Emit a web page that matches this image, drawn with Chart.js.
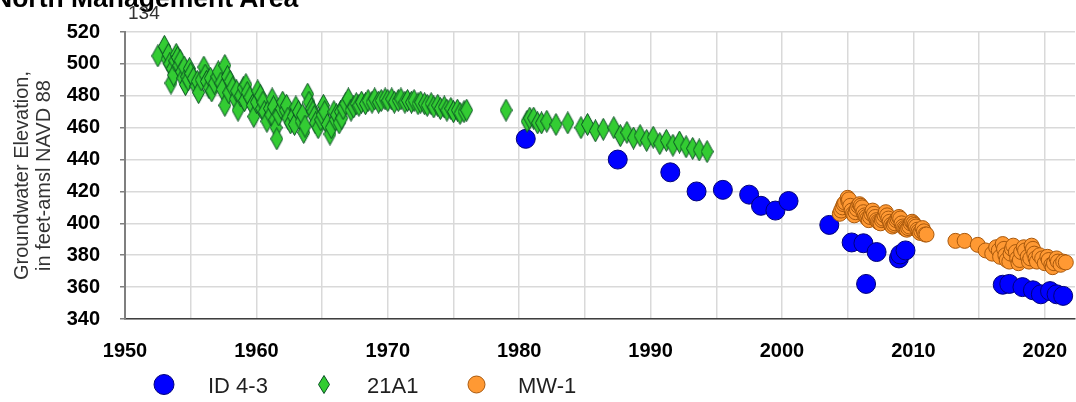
<!DOCTYPE html>
<html>
<head>
<meta charset="utf-8">
<script src="https://cdn.jsdelivr.net/npm/chart.js@4.4.1/dist/chart.umd.min.js"></script>
<style>
  html, body { margin: 0; padding: 0; background: #fff; }
  #wrap { position: relative; width: 1076px; height: 402px; overflow: hidden; font-family: "Liberation Sans", Arial, sans-serif; }
  #chart-title { position: absolute; left: -7px; top: -15px; font-size: 26.5px; font-weight: bold; line-height: 1; color: #000; white-space: nowrap; }
  #well-id { position: absolute; left: 128px; top: 3px; font-size: 19px; line-height: 1; color: #333; }
</style>
</head>
<body>
<div id="wrap">
  <canvas id="chart-hydro"></canvas>
  <div id="chart-title">North Management Area</div>
  <div id="well-id">134</div>
</div>
<script>
// Hydrograph — well 134, North Management Area
const FONT = '"Liberation Sans", Arial, sans-serif';

const xGridYears = [1950, 1955, 1960, 1965, 1970, 1975, 1980, 1985, 1990, 1995, 2000, 2005, 2010, 2015, 2020];
const yTickValues = [340, 360, 380, 400, 420, 440, 460, 480, 500, 520];
const seriesNames = ['ID 4-3', '21A1', 'MW-1'];

// [decimal year, elevation ft]
const id43 = [
  [1980.5, 453], [1987.5, 440], [1991.5, 432], [1993.5, 420], [1995.5, 421],
  [1997.5, 418], [1998.4, 411], [1999.5, 408], [2000.5, 414], [2003.6, 399],
  [2005.3, 388], [2006.2, 387.5], [2006.4, 362], [2007.2, 382], [2008.9, 378],
  [2009.0, 380.5], [2009.4, 383], [2016.8, 361.5], [2017.3, 362], [2018.3, 360],
  [2019.1, 358], [2019.7, 355.5], [2020.4, 357.5], [2020.9, 355.5], [2021.4, 354.5]
];

const well21A1 = [
  [1952.5, 505], [1953.0, 511], [1953.2, 503], [1953.3, 506], [1953.4, 500],
  [1953.5, 488], [1953.6, 497], [1953.7, 493], [1953.8, 502], [1953.9, 506],
  [1954.0, 504], [1954.1, 499], [1954.2, 502], [1954.3, 495], [1954.4, 491],
  [1954.5, 498], [1954.6, 487], [1954.7, 492], [1954.8, 490], [1954.9, 497],
  [1955.0, 494], [1955.2, 491], [1955.4, 486], [1955.5, 489], [1955.6, 482],
  [1955.8, 490], [1956.0, 498], [1956.1, 493], [1956.2, 489], [1956.4, 485],
  [1956.5, 491], [1956.6, 483], [1956.8, 488], [1957.0, 492], [1957.1, 495],
  [1957.3, 488], [1957.4, 484], [1957.6, 499], [1957.6, 474], [1957.8, 492],
  [1957.9, 482], [1958.0, 489], [1958.2, 485], [1958.4, 478], [1958.5, 483],
  [1958.6, 471], [1958.8, 480], [1959.0, 485], [1959.1, 477], [1959.2, 487],
  [1959.3, 482], [1959.5, 479], [1959.7, 474], [1959.8, 467], [1960.0, 476],
  [1960.1, 483], [1960.3, 480], [1960.4, 472], [1960.5, 476], [1960.6, 470],
  [1960.8, 464], [1961.0, 472], [1961.1, 468], [1961.2, 478], [1961.3, 473],
  [1961.4, 465], [1961.5, 460], [1961.55, 453], [1961.7, 468], [1961.9, 472],
  [1962.0, 476], [1962.2, 471], [1962.3, 474], [1962.4, 466], [1962.6, 463],
  [1962.8, 467], [1962.9, 462], [1963.0, 473], [1963.2, 470], [1963.4, 464],
  [1963.5, 468], [1963.6, 457], [1963.7, 461], [1963.9, 481], [1964.0, 476],
  [1964.2, 472], [1964.3, 470], [1964.4, 467], [1964.5, 463], [1964.7, 460],
  [1964.9, 465], [1965.0, 468], [1965.1, 474], [1965.2, 470], [1965.4, 462],
  [1965.6, 456], [1965.7, 460], [1965.9, 470], [1966.0, 465], [1966.1, 468],
  [1966.3, 463], [1966.4, 470], [1966.5, 466], [1966.6, 472], [1966.8, 475],
  [1967.0, 478], [1967.2, 471], [1967.4, 473], [1967.6, 475], [1967.8, 474],
  [1968.0, 476], [1968.3, 475], [1968.5, 477], [1968.8, 476], [1969.0, 478],
  [1969.3, 476], [1969.5, 477], [1969.8, 478], [1970.0, 477], [1970.3, 478],
  [1970.5, 476], [1970.8, 477], [1971.0, 478], [1971.3, 476], [1971.5, 477],
  [1971.8, 476], [1972.0, 477], [1972.3, 475], [1972.5, 476], [1972.8, 475],
  [1973.0, 474], [1973.3, 475], [1973.5, 473], [1973.8, 474], [1974.0, 472],
  [1974.3, 473], [1974.5, 471], [1974.8, 472], [1975.0, 470], [1975.3, 471],
  [1975.5, 469], [1975.8, 470], [1976.0, 471], [1979.0, 471], [1980.6, 464],
  [1980.8, 466], [1981.1, 466], [1981.4, 463], [1981.7, 463], [1982.1, 464],
  [1982.8, 462], [1983.7, 463], [1984.7, 460], [1985.2, 462], [1985.8, 458],
  [1986.4, 459], [1987.2, 460], [1987.7, 455], [1988.2, 457], [1988.7, 453.5],
  [1989.2, 455], [1989.7, 452], [1990.2, 454], [1990.7, 450], [1991.2, 452],
  [1991.7, 449], [1992.2, 451], [1992.7, 448], [1993.2, 447], [1993.7, 446],
  [1994.3, 445]
];

const mw1 = [
  [2004.4, 406], [2004.5, 408], [2004.6, 410], [2004.7, 412], [2004.8, 413],
  [2005.0, 416], [2005.05, 414], [2005.1, 415], [2005.2, 411], [2005.3, 408],
  [2005.4, 406], [2005.5, 405], [2005.6, 407], [2005.7, 409], [2005.8, 411],
  [2005.9, 412], [2006.0, 411], [2006.1, 410], [2006.2, 407], [2006.3, 405],
  [2006.4, 404], [2006.5, 403], [2006.6, 402], [2006.7, 404], [2006.8, 406],
  [2006.9, 408], [2007.0, 406], [2007.1, 404], [2007.2, 402], [2007.3, 401],
  [2007.4, 400.5], [2007.5, 400], [2007.6, 402], [2007.7, 403], [2007.8, 405],
  [2007.9, 407], [2008.0, 405], [2008.1, 403], [2008.2, 401], [2008.3, 399],
  [2008.4, 398], [2008.5, 399], [2008.6, 400], [2008.7, 402], [2008.8, 403],
  [2008.9, 404], [2009.0, 403], [2009.1, 400], [2009.2, 398], [2009.3, 397],
  [2009.4, 396.5], [2009.5, 396], [2009.6, 397], [2009.7, 398], [2009.8, 400],
  [2009.9, 401], [2010.0, 400], [2010.1, 399], [2010.2, 398], [2010.3, 396],
  [2010.4, 395], [2010.5, 394], [2010.6, 395], [2010.7, 397], [2010.8, 395],
  [2010.9, 393], [2011.0, 393],
  [2013.2, 389], [2013.9, 389], [2014.9, 386.5], [2015.5, 383], [2016.0, 381],
  [2016.3, 385], [2016.5, 383], [2016.6, 379], [2016.8, 387], [2016.9, 384],
  [2017.0, 380], [2017.1, 377], [2017.3, 376], [2017.4, 381], [2017.5, 384],
  [2017.6, 386], [2017.8, 382], [2017.9, 378], [2018.0, 375], [2018.1, 377],
  [2018.2, 382], [2018.4, 385], [2018.5, 383], [2018.7, 379], [2018.8, 376],
  [2018.9, 378], [2019.0, 386], [2019.1, 384], [2019.2, 381], [2019.3, 378],
  [2019.4, 376], [2019.6, 380], [2019.8, 378], [2020.0, 375], [2020.2, 379],
  [2020.3, 377], [2020.5, 374], [2020.6, 372.5], [2020.7, 375], [2020.9, 378],
  [2021.0, 376], [2021.2, 374], [2021.4, 376], [2021.6, 375.5]
];

const BLUE = '#0000ff', BLUE_EDGE = '#00007a';
const GREEN = '#33cc33', GREEN_EDGE = '#0a4f24';
const ORANGE = '#ff9933', ORANGE_EDGE = '#a8580c';

function makeDiamond(w, h) {
  const c = document.createElement('canvas');
  c.width = w; c.height = h;
  const g = c.getContext('2d');
  g.beginPath();
  g.moveTo(w / 2, 0.5);
  g.lineTo(w - 0.5, h / 2);
  g.lineTo(w / 2, h - 0.5);
  g.lineTo(0.5, h / 2);
  g.closePath();
  g.fillStyle = GREEN; g.fill();
  g.lineWidth = 1; g.strokeStyle = GREEN_EDGE; g.stroke();
  return c;
}

const diamondPoint = makeDiamond(13, 23);
const diamondLegend = makeDiamond(12, 19);

const toXY = arr => arr.map(([x, y]) => ({ x, y }));

/** legend drawn under the axis, Excel style */
const bottomLegend = {
  id: 'bottomLegend',
  afterDraw(chart) {
    const ctx = chart.ctx;
    const cy = 384.5;
    ctx.save();
    // ID 4-3
    ctx.beginPath(); ctx.arc(164, cy, 10, 0, Math.PI * 2);
    ctx.fillStyle = BLUE; ctx.fill(); ctx.lineWidth = 1; ctx.strokeStyle = BLUE_EDGE; ctx.stroke();
    // 21A1
    ctx.drawImage(diamondLegend, 324 - 6, cy - 9.5);
    // MW-1
    ctx.beginPath(); ctx.arc(476.5, cy, 8.5, 0, Math.PI * 2);
    ctx.fillStyle = ORANGE; ctx.fill(); ctx.strokeStyle = ORANGE_EDGE; ctx.stroke();

    ctx.font = '22px ' + FONT;
    ctx.fillStyle = '#1f1f1f';
    ctx.textBaseline = 'alphabetic';
    ctx.textAlign = 'left';
    const textX = [208, 367, 518];
    seriesNames.forEach((n, i) => ctx.fillText(n, textX[i], 393));
    ctx.restore();
  }
};

new Chart(document.getElementById('chart-hydro'), {
  type: 'scatter',
  data: {
    datasets: [
      {
        label: seriesNames[0], data: toXY(id43), order: 3, clip: false,
        pointStyle: 'circle', pointRadius: 9.5, pointHoverRadius: 9.5,
        backgroundColor: BLUE, borderColor: BLUE_EDGE, borderWidth: 1
      },
      {
        label: seriesNames[1], data: toXY(well21A1), order: 2, clip: false,
        pointStyle: diamondPoint, pointRadius: 11,
        backgroundColor: GREEN, borderColor: GREEN_EDGE, borderWidth: 1
      },
      {
        label: seriesNames[2], data: toXY(mw1), order: 1, clip: false,
        pointStyle: 'circle', pointRadius: 7.5, pointHoverRadius: 7.5,
        backgroundColor: ORANGE, borderColor: ORANGE_EDGE, borderWidth: 1
      }
    ]
  },
  options: {
    responsive: true,
    maintainAspectRatio: false,
    animation: false,
    layout: { autoPadding: false, padding: { top: 31, right: 1, bottom: 0, left: 0 } },
    plugins: {
      legend: { display: false },
      tooltip: { enabled: false }
    },
    scales: {
      x: {
        type: 'linear',
        min: 1950,
        max: 2022.3,
        afterBuildTicks(s) { s.ticks = xGridYears.map(v => ({ value: v })); },
        afterFit(s) { s.height = 83; s.paddingLeft = 0; s.paddingRight = 0; },
        grid: { color: '#d9d9d9', lineWidth: 1.5, drawTicks: false },
        border: { display: true, color: '#3f3f3f', width: 1.5 },
        ticks: {
          padding: 20, color: '#000', autoSkip: false, maxRotation: 0,
          font: { family: FONT, size: 20, weight: 'bold' },
          callback: v => (v % 10 === 0 ? String(v) : '')
        }
      },
      y: {
        min: 340,
        max: 520,
        afterBuildTicks(s) { s.ticks = yTickValues.map(v => ({ value: v })); },
        afterFit(s) { s.width = 125; },
        grid: { color: '#d9d9d9', lineWidth: 1.5, tickLength: 5, tickColor: '#7f7f7f' },
        border: { display: true, color: '#7f7f7f', width: 2 },
        ticks: {
          padding: 20, color: '#000',
          font: { family: FONT, size: 20, weight: 'bold' },
          callback: v => String(v)
        },
        title: {
          display: true,
          text: ['Groundwater Elevation,', 'in feet-amsl NAVD 88'],
          color: '#333',
          font: { family: FONT, size: 20, lineHeight: 1.1 },
          padding: { top: 11, bottom: 0 }
        }
      }
    }
  },
  plugins: [bottomLegend]
});
</script>
</body>
</html>
